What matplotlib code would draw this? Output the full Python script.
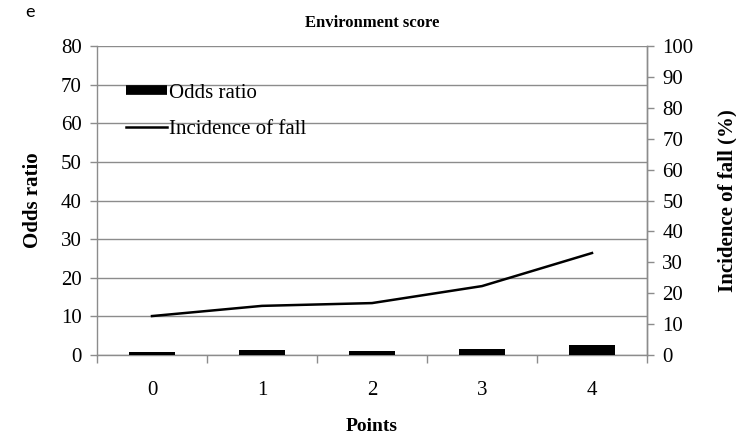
import matplotlib
matplotlib.use('Agg')
import matplotlib.pyplot as plt
from matplotlib.lines import Line2D

# data
points = ['0', '1', '2', '3', '4']
odds_ratio = [0.8, 1.2, 1.1, 1.45, 2.6]
incidence = [12.6, 15.9, 16.8, 22.3, 33.0]

GRAY = '#8c8c8c'
SERIF = 'Liberation Serif'

plt.rcParams['font.family'] = SERIF

fig = plt.figure(figsize=(7.36, 4.38), dpi=100)
ax = fig.add_axes([97 / 736, 1 - 355 / 438, 550 / 736, 309 / 438])
ax2 = ax.twinx()

x = list(range(len(points)))
ax.bar(x, odds_ratio, width=0.41, color='black', zorder=3)
ax2.plot(x, incidence, color='black', lw=1.8, zorder=4)

ax.set_xlim(-0.5, len(points) - 0.5)
ax.set_ylim(0, 80)
ax2.set_ylim(0, 100)
ax.set_yticks(range(0, 81, 10))
ax2.set_yticks(range(0, 101, 10))
ax.set_xticks(x)
ax.set_xticklabels(points)
ax.set_xticks([i - 0.5 for i in range(len(points) + 1)], minor=True)

ax.yaxis.grid(True, color=GRAY, lw=1)
ax.set_axisbelow(True)

for a in (ax, ax2):
    a.spines['top'].set_visible(False)
    for s in ('left', 'right', 'bottom'):
        a.spines[s].set_color(GRAY)
        a.spines[s].set_linewidth(1)
ax2.spines['left'].set_visible(False)
ax2.spines['bottom'].set_visible(False)

ax.tick_params(axis='x', which='major', length=0, pad=19, labelsize=15)
ax.tick_params(axis='x', which='minor', length=6, color=GRAY, width=1)
ax.tick_params(axis='y', length=5, color=GRAY, width=1, labelsize=15, pad=6)
ax2.tick_params(axis='y', length=5, color=GRAY, width=1, labelsize=15, pad=6)

ax.set_ylabel('Odds ratio', fontsize=15, fontweight='bold', labelpad=13)
ax2.set_ylabel('Incidence of fall (%)', fontsize=15, fontweight='bold', labelpad=17)
ax.set_xlabel('Points', fontsize=14, fontweight='bold', labelpad=13)
fig.text(372 / 736, 1 - 23 / 438, 'Environment score', ha='center', va='center',
         fontsize=12, fontweight='bold')
fig.text(30 / 736, 1 - 12 / 438, 'e', ha='center', va='center', fontsize=13,
         family='Lato')

handles = [Line2D([], [], color='black', lw=7, solid_capstyle='butt'),
           Line2D([], [], color='black', lw=1.8)]
leg = ax.legend(handles, ['Odds ratio', 'Incidence of fall'], loc='upper left',
                bbox_to_anchor=(0.052, 0.88), frameon=False, fontsize=15,
                handlelength=2.0, handletextpad=0.1, labelspacing=0.8,
                borderpad=0, borderaxespad=0)
leg.set_zorder(5)

fig.savefig('out.png', dpi=100)
